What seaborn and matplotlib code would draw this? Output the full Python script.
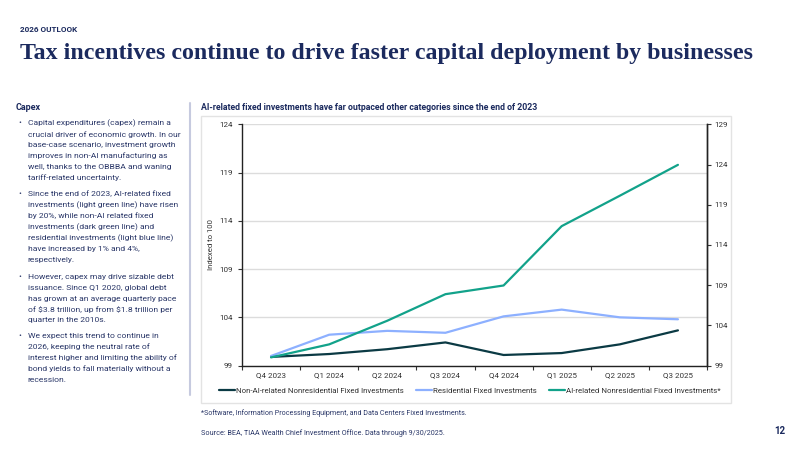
import pandas as pd
import matplotlib.pyplot as plt
import seaborn as sns
from matplotlib.patches import Rectangle
from matplotlib.lines import Line2D
from matplotlib.ticker import FixedLocator

sns.set_theme(style="white")
plt.rcParams['font.family'] = ['Roboto', 'DejaVu Sans']

quarters = ["Q4 2023", "Q1 2024", "Q2 2024", "Q3 2024", "Q4 2024", "Q1 2025", "Q2 2025", "Q3 2025"]
non_ai = [99.9, 100.2, 100.7, 101.4, 100.1, 100.3, 101.2, 102.65]
residential = [100.0, 102.2, 102.6, 102.4, 104.1, 104.8, 104.0, 103.8]
ai_related = [99.85, 101.2, 103.65, 106.4, 107.3, 113.45, 116.6, 119.8]
series_names = ["Non-AI-related Nonresidential Fixed Investments",
                "Residential Fixed Investments",
                "AI-related Nonresidential Fixed Investments*"]
colors = ["#0b3a44", "#8db0ff", "#12a28a"]

navy = "#1b2a5e"
text_navy = "#2a3768"

df = pd.DataFrame({
    "pos": list(range(len(quarters))) * 3,
    "value": non_ai + residential + ai_related,
    "series": [series_names[0]] * 8 + [series_names[1]] * 8 + [series_names[2]] * 8,
})

fig = plt.figure(figsize=(8, 4.5), dpi=100)
fig.patch.set_facecolor("white")

# header
fig.text(20 / 800, 1 - 30 / 450, "2026 OUTLOOK", fontsize=5.9, fontweight="bold", color=navy, va="center")
fig.text(20 / 800, 1 - 53 / 450, "Tax incentives continue to drive faster capital deployment by businesses",
         fontsize=17.2, fontweight="bold", color=navy, va="center", family=["Liberation Serif", "DejaVu Serif"])

# left column text
fig.text(16 / 800, 1 - 107 / 450, "Capex", fontsize=6.5, fontweight="bold", color=navy, va="center")
bullets = [
    ["Capital expenditures (capex) remain a", "crucial driver of economic growth. In our",
     "base-case scenario, investment growth", "improves in non-AI manufacturing as",
     "well, thanks to the OBBBA and waning", "tariff-related uncertainty."],
    ["Since the end of 2023, AI-related fixed", "investments (light green line) have risen",
     "by 20%, while non-AI related fixed", "investments (dark green line) and",
     "residential investments (light blue line)", "have increased by 1% and 4%,", "respectively."],
    ["However, capex may drive sizable debt", "issuance. Since Q1 2020, global debt",
     "has grown at an average quarterly pace", "of \\$3.8 trillion, up from \\$1.8 trillion per",
     "quarter in the 2010s."],
    ["We expect this trend to continue in", "2026, keeping the neutral rate of",
     "interest higher and limiting the ability of", "bond yields to fall materially without a",
     "recession."],
]
bullet_tops = [123.3, 194.0, 276.7, 336.0]
for lines, top in zip(bullets, bullet_tops):
    fig.text(18 / 800, 1 - top / 450, "•", fontsize=6, color=text_navy, va="center")
    for i, line in enumerate(lines):
        fig.text(27.7 / 800, 1 - (top + i * 10.93) / 450, line, fontsize=6.1, color=text_navy, va="center")

fig.add_artist(Line2D([190 / 800, 190 / 800], [1 - 103 / 450, 1 - 395 / 450], color="#c6cadf", lw=1.5))

# chart
fig.text(201 / 800, 1 - 107 / 450,
         "AI-related fixed investments have far outpaced other categories since the end of 2023",
         fontsize=6.3, fontweight="bold", color=navy, va="center")
fig.add_artist(Rectangle((201 / 800, 1 - 403 / 450), 530 / 800, 287 / 450, fill=False,
                         edgecolor="#e3e3e3", lw=1))

ax = fig.add_axes([242 / 800, 1 - 365.6 / 450, 465 / 800, 241.3 / 450])
sns.lineplot(data=df, x="pos", y="value", hue="series", hue_order=series_names,
             palette=dict(zip(series_names, colors)), linewidth=1.6, ax=ax)

ax.set_xlim(-0.5, 7.5)
ax.set_ylim(99, 124)
ax.set_yticks([99, 104, 109, 114, 119, 124])
ax.set_xticks(range(len(quarters)))
ax.set_xticklabels(quarters)
ax.xaxis.set_minor_locator(FixedLocator([i + 0.5 for i in range(-1, 8)]))
ax.tick_params(axis="x", which="major", length=0, pad=5, labelsize=5.8, labelcolor="#333333")
ax.tick_params(axis="x", which="minor", length=3, width=0.8, color="#333333", direction="out", bottom=True)
ax.tick_params(axis="y", length=3, width=0.8, color="#333333", pad=3.5, labelsize=5.8,
               labelcolor="#333333", left=True)
ax.set_xlabel("")
ax.set_ylabel("Indexed to 100", fontsize=5.6, color="#333333", labelpad=4)
ax.yaxis.grid(True, color="#dcdcdc", lw=1)
ax.set_axisbelow(True)
for s in ["left", "bottom", "right"]:
    ax.spines[s].set_visible(True)
    ax.spines[s].set_color("#222222")
    ax.spines[s].set_linewidth(1)
ax.spines["top"].set_visible(False)

ax2 = ax.twinx()
ax2.set_ylim(99, 129)
ax2.set_yticks([99, 104, 109, 114, 119, 124, 129])
ax2.tick_params(axis="y", length=3, width=0.8, color="#333333", pad=2.5, labelsize=5.8,
                labelcolor="#333333", right=True)
ax2.grid(False)
for s in ["top", "left", "bottom"]:
    ax2.spines[s].set_visible(False)
ax2.spines["right"].set_color("#222222")
ax2.spines["right"].set_linewidth(1)

sns.move_legend(ax, "center", bbox_to_anchor=(0.49, -0.105), ncol=3, frameon=False, title=None,
                fontsize=5.7, handlelength=2.0, handletextpad=0.1, columnspacing=1.6)
for t in ax.get_legend().get_texts():
    t.set_color("#333333")

# footnotes
fig.text(201 / 800, 1 - 413 / 450, "*Software, Information Processing Equipment, and Data Centers Fixed Investments.",
         fontsize=5.1, color=text_navy, va="center")
fig.text(201 / 800, 1 - 433 / 450, "Source: BEA, TIAA Wealth Chief Investment Office. Data through 9/30/2025.",
         fontsize=5.2, color=text_navy, va="center")
fig.text(785 / 800, 1 - 431 / 450, "12", fontsize=7, fontweight="bold", color=navy, va="center", ha="right")

fig.savefig("out.png", dpi=100, facecolor="white")
